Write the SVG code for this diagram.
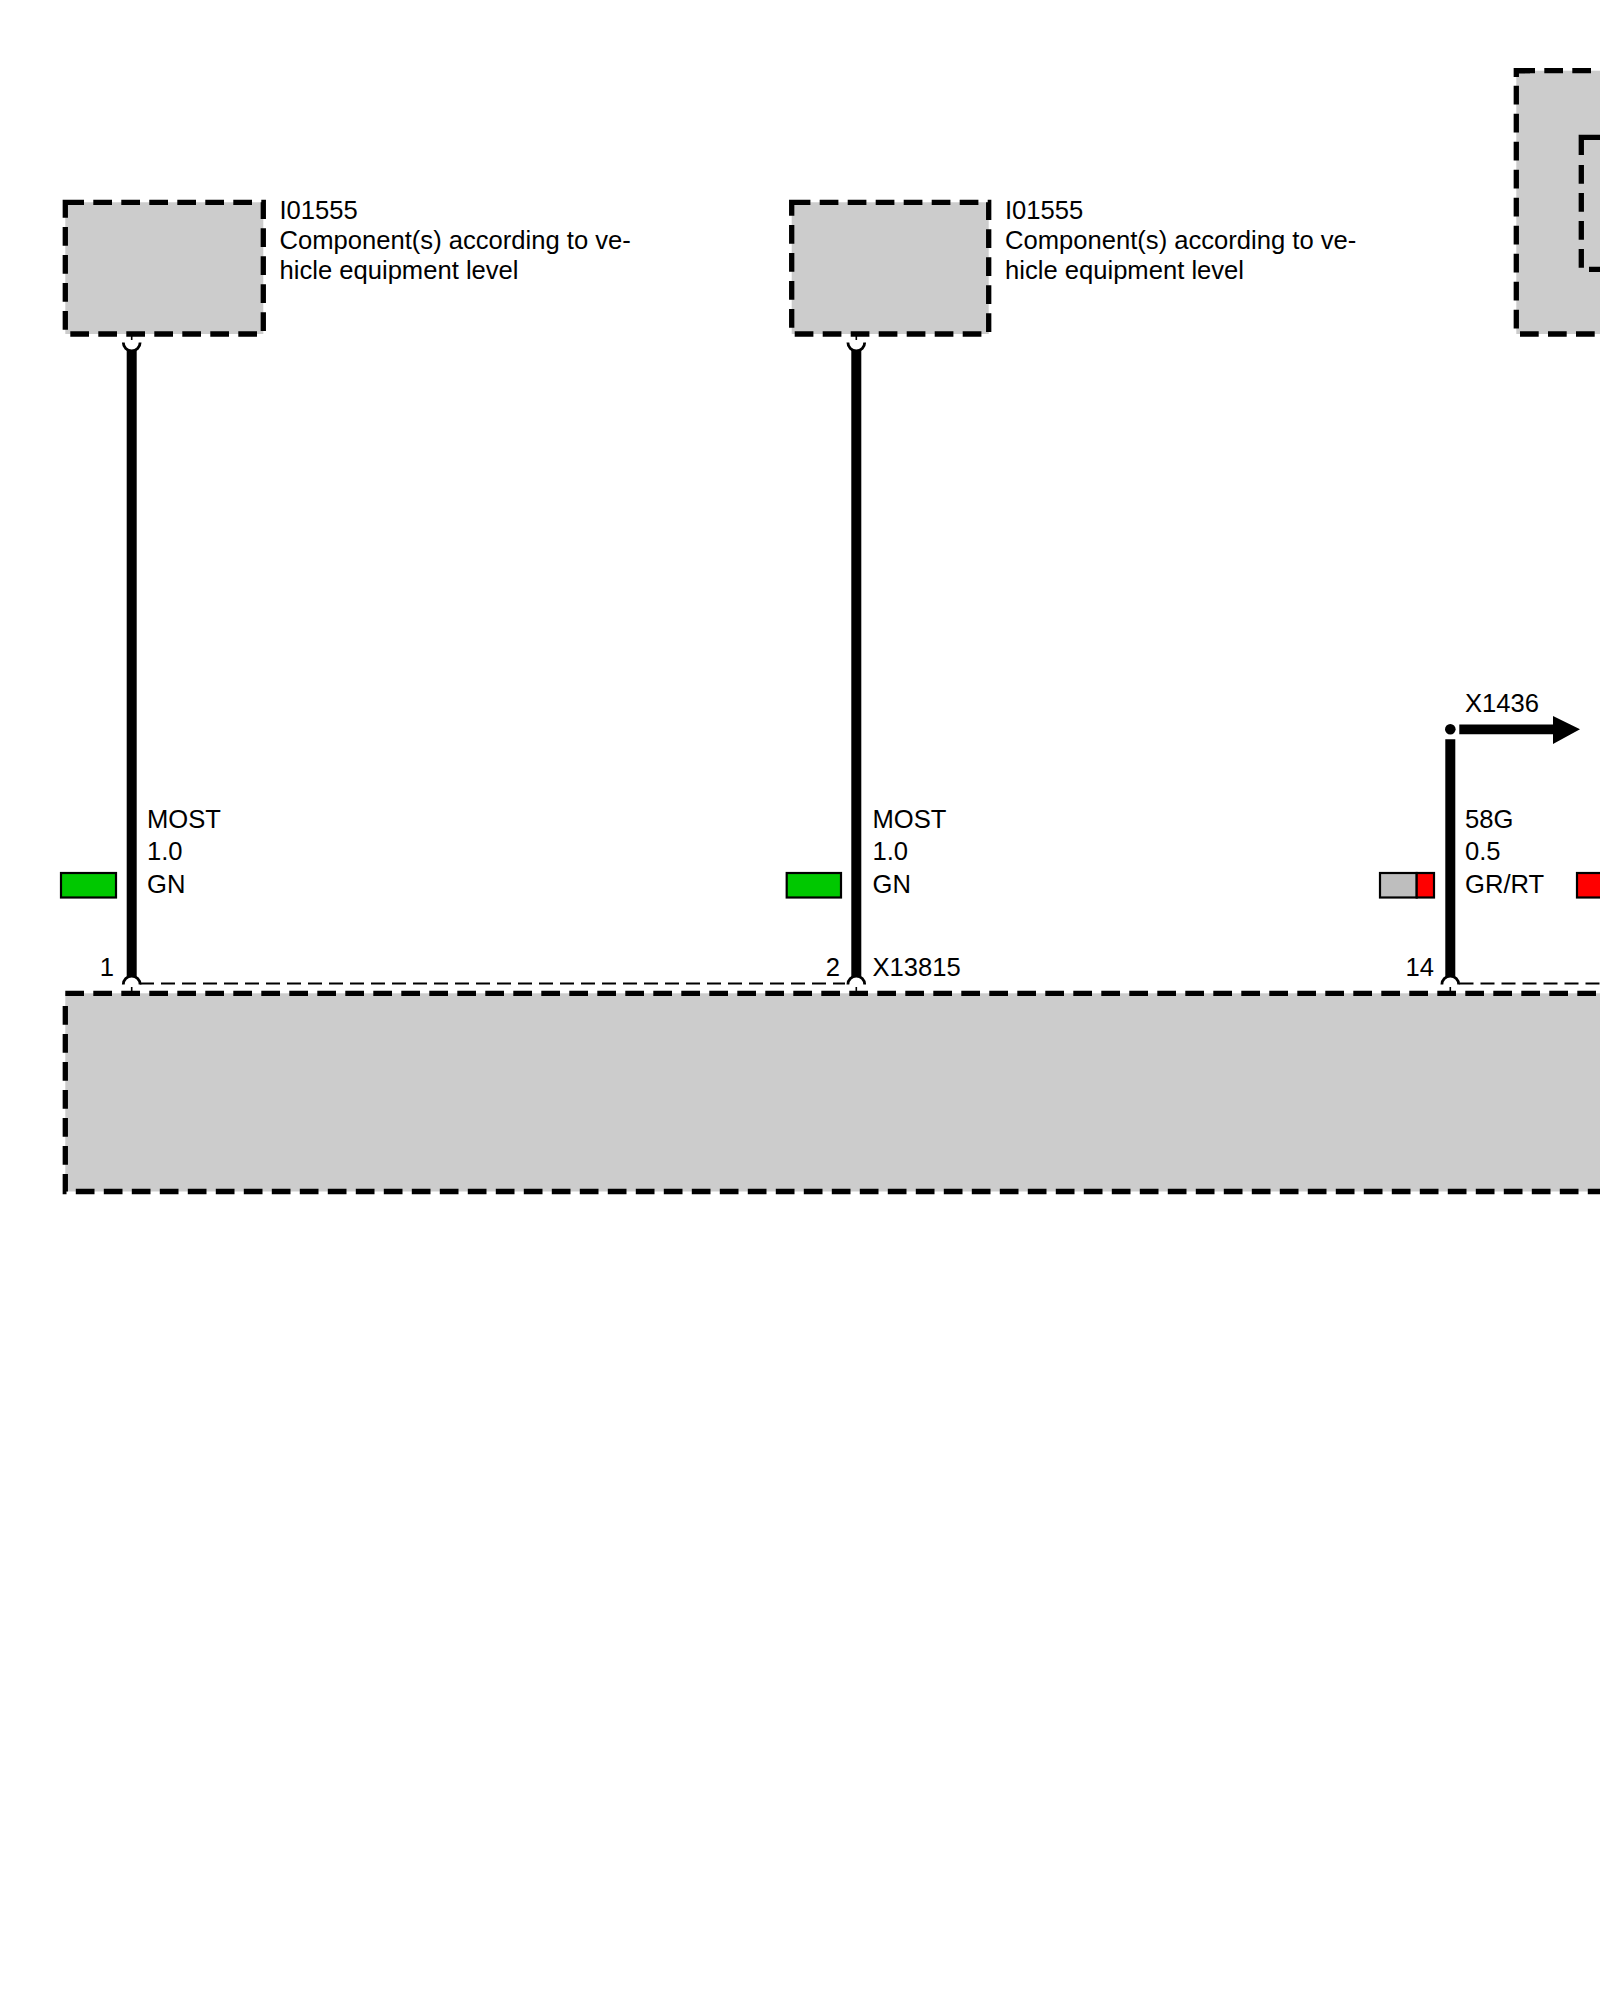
<svg xmlns="http://www.w3.org/2000/svg" width="1600" height="2000" viewBox="0 0 1600 2000">
<style>
.t{font-family:"Liberation Sans",Arial,sans-serif;font-size:25.6px;fill:#000}
.e{text-anchor:end}
.box{fill:#ccc;stroke:none}
.d{fill:none;stroke:#000;stroke-width:5.3;stroke-dasharray:18.7 9.3}
.dr{fill:#ccc;stroke:#000;stroke-width:5.3;stroke-dasharray:18.7 9.3}
.s{fill:none;stroke:#000;stroke-width:5.3}
.thin{fill:none;stroke:#000;stroke-width:2;stroke-dasharray:14 7}
.w{fill:none;stroke:#000;stroke-width:10}
.a{fill:none;stroke:#000;stroke-width:2.8}
.k{fill:none;stroke:#000;stroke-width:1.6}
.c{stroke:#000;stroke-width:2.2}
</style>
<rect width="1600" height="2000" fill="#fff"/>
<g id="module-main">
<rect class="box" x="65.3" y="993.3" width="1540" height="198.2"/>
<path class="d" d="M65.3 993.3H1600"/>
<path class="d" d="M65.3 1006V1191.5H1600"/>
<path class="thin" d="M140 983.4H845M1459.5 983.4H1600"/>
</g>
<g id="component-1">
<path class="dr" d="M65.3 202.3H263.3V334H65.3Z"/>
<text class="t" x="279.5" y="218.8">I01555</text>
<text class="t" x="279.5" y="249">Component(s) according to ve-</text>
<text class="t" x="279.5" y="278.5">hicle equipment level</text>
</g>
<g id="component-2">
<path class="dr" d="M791.7 202.3H988.7V334H791.7Z"/>
<text class="t" x="1005" y="218.8">I01555</text>
<text class="t" x="1005" y="249">Component(s) according to ve-</text>
<text class="t" x="1005" y="278.5">hicle equipment level</text>
</g>
<g id="component-3">
<rect class="box" x="1516.3" y="70.7" width="90" height="263.3"/>
<path class="d" d="M1516.3 70.7H1600"/>
<path class="s" d="M1516.3 77V70.7H1530"/>
<path class="d" d="M1516.3 85.7V334H1600"/>
<path class="s" d="M1581.3 155V137.3H1600"/>
<path class="d" d="M1581.3 165V269.3H1600"/>
</g>
<g id="connectors">
<path class="w" d="M131.7 350V977M856.3 350V977M1450.3 739.3V977"/>
<path class="a" d="M123.3 342.5A8.4 8.4 0 0 0 140.1 342.5M847.9 342.5A8.4 8.4 0 0 0 864.7 342.5"/>
<path class="k" d="M131.7 334V340M856.3 334V340"/>
<path class="a" d="M123.3 984.5A8.4 8.4 0 0 1 140.1 984.5M847.9 984.5A8.4 8.4 0 0 1 864.7 984.5M1441.9 984.5A8.4 8.4 0 0 1 1458.7 984.5"/>
<path class="k" d="M131.7 987V993M856.3 987V993M1450.3 987V993"/>
<circle cx="1450.3" cy="729.3" r="5.3" fill="#000"/>
<path d="M1459.3 724.5H1553V716L1580 729.3 1553 744V734.2H1459.3Z" fill="#000"/>
</g>
<g id="wire-1-label">
<rect class="c" x="61" y="873" width="55" height="24.5" fill="#00c800"/>
<text class="t" x="147" y="827.8">MOST</text>
<text class="t" x="147" y="860">1.0</text>
<text class="t" x="147" y="893">GN</text>
<text class="t e" x="114" y="976.2">1</text>
</g>
<g id="wire-2-label">
<rect class="c" x="786.7" y="873" width="54.3" height="24.5" fill="#00c800"/>
<text class="t" x="872.5" y="827.8">MOST</text>
<text class="t" x="872.5" y="860">1.0</text>
<text class="t" x="872.5" y="893">GN</text>
<text class="t e" x="840" y="976.2">2</text>
<text class="t" x="872.5" y="976.2">X13815</text>
</g>
<g id="wire-3-label">
<rect class="c" x="1380" y="873" width="36.7" height="24.5" fill="#bebebe"/>
<rect class="c" x="1416.7" y="873" width="17.3" height="24.5" fill="#f00"/>
<rect class="c" x="1577" y="873" width="30" height="24.5" fill="#f00"/>
<text class="t" x="1465" y="711.5">X1436</text>
<text class="t" x="1465" y="827.8">58G</text>
<text class="t" x="1465" y="860">0.5</text>
<text class="t" x="1465" y="893">GR/RT</text>
<text class="t e" x="1434" y="976.2">14</text>
</g>
</svg>
